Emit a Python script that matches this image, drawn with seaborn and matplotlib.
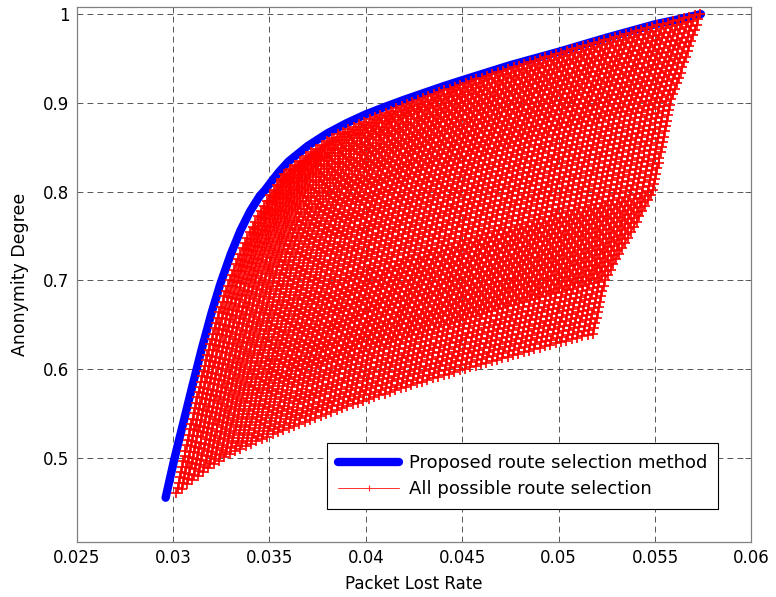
import numpy as np
import pandas as pd
import matplotlib
matplotlib.use("Agg")
import matplotlib.pyplot as plt
import seaborn as sns
from matplotlib.lines import Line2D

# ---------------- data ----------------
# Proposed route selection method (blue Pareto curve)
blue_x = [0.02962, 0.02985, 0.03009, 0.03050, 0.03100, 0.03148, 0.03200, 0.03246,
          0.03300, 0.03350, 0.03400, 0.03450, 0.03477, 0.03510, 0.03550, 0.03600,
          0.03700, 0.03800, 0.03900, 0.04000, 0.04100, 0.04200, 0.04300, 0.04400,
          0.04500, 0.04750, 0.05000, 0.05250, 0.05500, 0.05650, 0.05738]
blue_y = [0.4549, 0.4770, 0.5000, 0.5360, 0.5800, 0.6214, 0.6630, 0.6960,
          0.7295, 0.7560, 0.7777, 0.7950, 0.8015, 0.8110, 0.8220, 0.8340,
          0.8515, 0.8655, 0.8770, 0.8870, 0.8955, 0.9035, 0.9110, 0.9185,
          0.9255, 0.9425, 0.9575, 0.9735, 0.9885, 0.9955, 1.0000]

# All possible route selections: lattice of route combinations.
# start point of each stripe (lower edge of the red cloud)
low_x = [0.03018, 0.03046, 0.03073, 0.03101, 0.03129, 0.03157, 0.03184, 0.03212,
         0.03240, 0.03267, 0.03295, 0.03323, 0.03350, 0.03378, 0.03406, 0.03433,
         0.03461, 0.03489, 0.03517, 0.03544, 0.03572, 0.03600, 0.03627, 0.03655,
         0.03683, 0.03710, 0.03738, 0.03766, 0.03794, 0.03821, 0.03849, 0.03877,
         0.03904, 0.03932, 0.03960, 0.03987, 0.04015, 0.04043, 0.04071, 0.04098,
         0.04126, 0.04154, 0.04181, 0.04209, 0.04237, 0.04264, 0.04292, 0.04320,
         0.04348, 0.04375, 0.04403, 0.04431, 0.04458, 0.04486, 0.04514, 0.04541,
         0.04569, 0.04597, 0.04625, 0.04652, 0.04680, 0.04708, 0.04735, 0.04763,
         0.04791, 0.04818, 0.04846, 0.04874, 0.04902, 0.04929, 0.04957, 0.04985,
         0.05012, 0.05040, 0.05068, 0.05095, 0.05123, 0.05151, 0.05179]
low_y = [0.4599, 0.4650, 0.4700, 0.4748, 0.4795, 0.4840, 0.4884, 0.4926,
         0.4968, 0.5006, 0.5044, 0.5074, 0.5103, 0.5131, 0.5158, 0.5185,
         0.5212, 0.5238, 0.5263, 0.5288, 0.5312, 0.5336, 0.5360, 0.5383,
         0.5406, 0.5429, 0.5452, 0.5474, 0.5496, 0.5518, 0.5539, 0.5560,
         0.5581, 0.5602, 0.5622, 0.5643, 0.5663, 0.5683, 0.5703, 0.5723,
         0.5742, 0.5762, 0.5781, 0.5800, 0.5819, 0.5838, 0.5856, 0.5875,
         0.5893, 0.5912, 0.5930, 0.5948, 0.5966, 0.5984, 0.6001, 0.6019,
         0.6037, 0.6054, 0.6071, 0.6089, 0.6106, 0.6123, 0.6140, 0.6157,
         0.6173, 0.6190, 0.6207, 0.6224, 0.6240, 0.6256, 0.6272, 0.6289,
         0.6305, 0.6321, 0.6337, 0.6353, 0.6369, 0.6385, 0.6400]
# rise of anonymity degree along each stripe
step_dy = [0.000, 0.006, 0.012, 0.018, 0.024, 0.030, 0.036, 0.042, 0.048, 0.054,
           0.060, 0.066, 0.072, 0.078, 0.084, 0.090, 0.096, 0.102, 0.108, 0.114,
           0.120, 0.126, 0.132, 0.138, 0.144, 0.150, 0.156, 0.162, 0.168, 0.174,
           0.180, 0.186, 0.192, 0.198, 0.204, 0.210, 0.216, 0.222, 0.228, 0.234,
           0.240, 0.246, 0.252, 0.258, 0.264, 0.270, 0.276, 0.282, 0.288, 0.294,
           0.300, 0.306, 0.312, 0.318, 0.324, 0.330, 0.336, 0.342, 0.348, 0.354,
           0.360]
# growth of packet loss along the leftmost stripe
left_dx = [0.00000, 0.00006, 0.00012, 0.00018, 0.00024, 0.00030, 0.00036, 0.00042,
           0.00047, 0.00053, 0.00059, 0.00065, 0.00071, 0.00077, 0.00084, 0.00090,
           0.00096, 0.00102, 0.00108, 0.00115, 0.00121, 0.00128, 0.00134, 0.00141,
           0.00147, 0.00154, 0.00161, 0.00168, 0.00176, 0.00183, 0.00191, 0.00198,
           0.00206, 0.00214, 0.00223, 0.00231, 0.00240, 0.00249, 0.00258, 0.00268,
           0.00277, 0.00288, 0.00298, 0.00309, 0.00320, 0.00331, 0.00343, 0.00356,
           0.00368, 0.00381, 0.00395, 0.00409, 0.00424, 0.00439, 0.00454, 0.00470,
           0.00487, 0.00504, 0.00522, 0.00541, 0.00560]
# growth of packet loss along the rightmost stripe
right_dx = [0.00000, 0.00006, 0.00012, 0.00018, 0.00024, 0.00030, 0.00036, 0.00042,
            0.00048, 0.00054, 0.00060, 0.00075, 0.00090, 0.00105, 0.00120, 0.00135,
            0.00150, 0.00165, 0.00180, 0.00195, 0.00210, 0.00225, 0.00240, 0.00255,
            0.00270, 0.00285, 0.00300, 0.00312, 0.00317, 0.00323, 0.00328, 0.00333,
            0.00339, 0.00344, 0.00350, 0.00355, 0.00360, 0.00366, 0.00371, 0.00377,
            0.00382, 0.00387, 0.00393, 0.00398, 0.00406, 0.00416, 0.00425, 0.00434,
            0.00443, 0.00453, 0.00462, 0.00471, 0.00481, 0.00490, 0.00499, 0.00509,
            0.00518, 0.00527, 0.00536, 0.00546, 0.00555]

x_ticks = [0.025, 0.03, 0.035, 0.04, 0.045, 0.05, 0.055, 0.06]
x_tick_labels = ["0.025", "0.03", "0.035", "0.04", "0.045", "0.05", "0.055", "0.06"]
y_ticks = [0.5, 0.6, 0.7, 0.8, 0.9, 1.0]
y_tick_labels = ["0.5", "0.6", "0.7", "0.8", "0.9", "1"]

# ---------------- build the route lattice table ----------------
lx, ly = np.array(low_x), np.array(low_y)
dy, ldx, rdx = np.array(step_dy), np.array(left_dx), np.array(right_dx)
w = (np.arange(len(lx)) / (len(lx) - 1))[:, None]
X = lx[:, None] + (1 - w) * ldx[None, :] + w * rdx[None, :]
Y = ly[:, None] + dy[None, :]
red_df = pd.DataFrame({
    "loss": X.ravel(),
    "anon": Y.ravel(),
    "stripe": np.repeat(np.arange(len(lx)), len(dy)),
})
blue_df = pd.DataFrame({"loss": blue_x, "anon": blue_y})

# ---------------- style ----------------
sns.set_theme(style="white")
plt.rcParams["font.family"] = ["DejaVu Sans"]
plt.rcParams["text.color"] = "black"
plt.rcParams["axes.labelcolor"] = "black"

fig = plt.figure(figsize=(7.76, 5.97), dpi=100)
ax = fig.add_axes([0.0986, 0.0921, 0.8698, 0.8962])

sns.lineplot(data=blue_df, x="loss", y="anon", sort=False, estimator=None,
             color="#0000ff", lw=6, solid_capstyle="round", ax=ax, zorder=3)
sns.lineplot(data=red_df, x="loss", y="anon", units="stripe", estimator=None,
             sort=False, color="#ff0000", lw=0.9, marker="+", markersize=6.5,
             markeredgecolor="#ff0000", markeredgewidth=1.2, ax=ax, zorder=4)

ax.set_xlim(0.025, 0.06)
ax.set_ylim(0.405, 1.008)
ax.set_xticks(x_ticks)
ax.set_xticklabels(x_tick_labels)
ax.set_yticks(y_ticks)
ax.set_yticklabels(y_tick_labels)
ax.tick_params(direction="in", length=4, width=0.6, color="#555555",
               top=True, right=True, labelsize=12, pad=5, labelcolor="black")
ax.set_axisbelow(True)
ax.grid(True, color="#3a3a3a", lw=0.6, linestyle=(0, (7, 5)))
for s in ax.spines.values():
    s.set_color("#808080")
    s.set_linewidth(0.9)

ax.set_xlabel("Packet Lost Rate", fontsize=12, labelpad=6, color="black")
ax.set_ylabel("Anonymity Degree", fontsize=12.5, labelpad=10, color="black")

handles = [Line2D([], [], color="#0000ff", lw=6),
           Line2D([], [], color="#ff3030", lw=0.7, marker="+", markersize=5,
                  markeredgewidth=0.8)]
labels = ["Proposed route selection method", "All possible route selection"]
leg = ax.legend(handles, labels, loc="lower right", bbox_to_anchor=(0.950, 0.0611),
                borderaxespad=0, fontsize=13, handlelength=3.4, handletextpad=0.5,
                borderpad=0.6, labelspacing=0.46, fancybox=False, framealpha=1,
                edgecolor="black")
leg.get_frame().set_linewidth(0.8)
for t in leg.get_texts():
    t.set_color("black")

fig.savefig("out.png", dpi=100)
